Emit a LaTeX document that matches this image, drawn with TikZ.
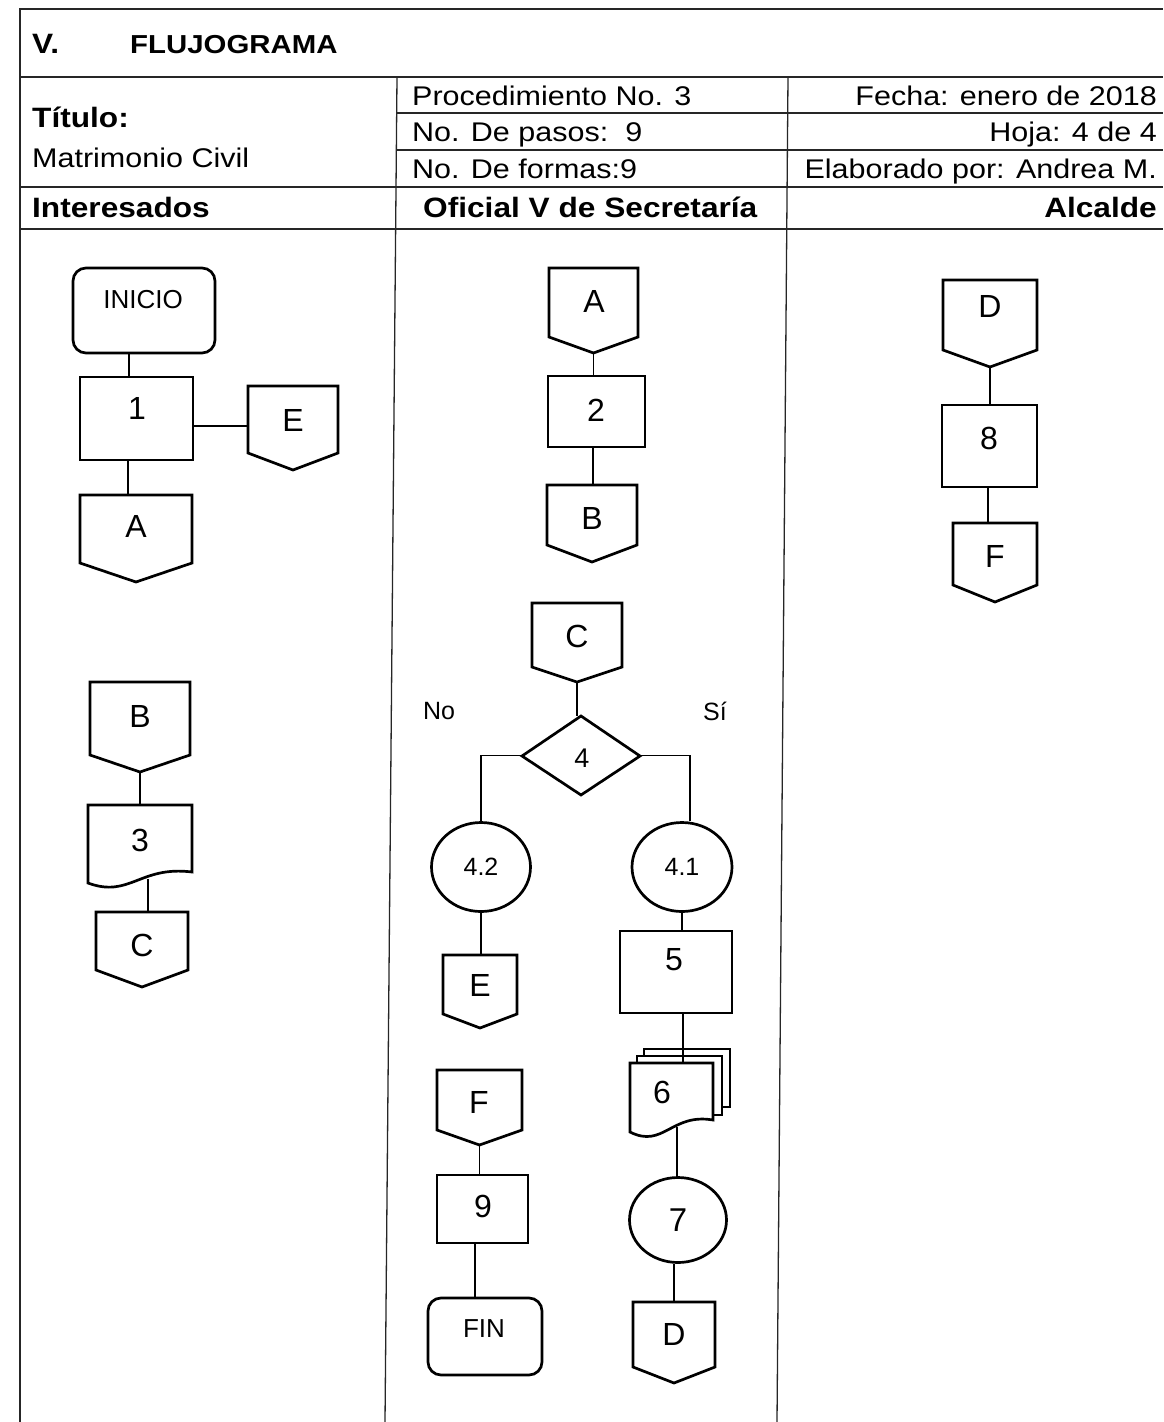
\documentclass[tikz,border=0pt]{standalone}
\usepackage{fontspec}
\setmainfont{Liberation Sans}
\newfontfamily\hdr[FakeStretch=1.13]{Liberation Sans}
\usetikzlibrary{fit,shapes.geometric}

\tikzset{
 shp/.style={draw=black, line width=2.7pt, line join=miter, fill=white},
 conn/.style={draw=black, line width=1.7pt},
 tbl/.style={draw=black!85, line width=1.3pt},
 box/.style={inner sep=0pt, outer sep=0pt},
 lbl/.style={inner sep=0pt, font=\fontsize{32}{32}\selectfont},
 slbl/.style={inner sep=0pt, font=\fontsize{25}{25}\selectfont},
 hreg/.style={inner sep=0pt, font=\hdr\fontsize{27}{27}\selectfont},
 hbold/.style={inner sep=0pt, font=\hdr\bfseries\fontsize{28}{28}\selectfont},
 circ/.style={shp, ellipse, inner sep=0pt, font=\fontsize{25}{25}\selectfont},
}

% off-page connector: name, xl, xr, top, side bottom, tip
\newcommand{\offpg}[6]{%
 \draw[shp] (#2,#4) -- (#3,#4) -- (#3,#5) -- ({(#2+#3)/2},#6) -- (#2,#5) -- cycle;
 \node[box, fit={(#2,#4) (#3,#6)}] (#1) {};}
% process box: name, xl, xr, top, bottom
\newcommand{\procbox}[5]{%
 \draw[shp] (#2,#4) rectangle (#3,#5);
 \node[box, fit={(#2,#4) (#3,#5)}] (#1) {};}
% terminal: name, xl, xr, top, bottom
\newcommand{\termbox}[5]{%
 \draw[shp, rounded corners=13pt] (#2,#4) rectangle (#3,#5);
 \node[box, fit={(#2,#4) (#3,#5)}] (#1) {};}
% document: name, xl, xr, top, left bottom, right bottom
\newcommand{\docshape}[6]{%
 \draw[shp] (#2,#4) -- (#3,#4) -- (#3,#6) .. controls ({#3-0.5*(#3-#2)},{#6-0.6*(#5-#6)}) and ({#2+0.4*(#3-#2)},{#5+1.4*(#5-#6)}) .. (#2,#5) -- cycle;
 \node[box, fit={(#2,#4) (#3,#5)}] (#1) {};}

\begin{document}
\begin{tikzpicture}[x=1pt,y=-1pt]
\useasboundingbox (0,0) rectangle (1163,1422);

% ---------- table ----------
\draw[tbl] (20,1422) -- (20,9) -- (1163,9);
\draw[tbl] (20,77) -- (1163,77);
\draw[tbl] (397,113) -- (1163,113);
\draw[tbl] (397,150) -- (1163,150);
\draw[tbl] (20,187) -- (1163,187);
\draw[tbl] (20,229) -- (1163,229);
\draw[tbl] (397,77) -- (385,1422);
\draw[tbl] (788,77) -- (777,1422);

\node[hbold, anchor=base west] (tV) at (32,53) {V.};
\node[hbold, anchor=base west, font=\hdr\bfseries\fontsize{26}{26}\selectfont] (tFlu) at (130,53) {FLUJOGRAMA};
\node[hbold, anchor=base west] (tTit) at (32,127) {Título:};
\node[hreg, anchor=base west] (tMat) at (32,167) {Matrimonio Civil};
\node[hreg, anchor=base west] (tProc) at (412,105) {Procedimiento No. 3};
\node[hreg, anchor=base west] (tPas) at (412,141) {No. De pasos:~~9};
\node[hreg, anchor=base west] (tFor) at (412,178) {No. De formas:9};
\node[hreg, anchor=base east] (tFec) at (1157,105) {Fecha: enero de 2018};
\node[hreg, anchor=base east] (tHoj) at (1157,141) {Hoja: 4 de 4};
\node[hreg, anchor=base east] (tEla) at (1157,178) {Elaborado por: Andrea M.};
\node[hbold, anchor=base west] (tInt) at (32,217) {Interesados};
\node[hbold, anchor=base west] (tOfi) at (423,217) {Oficial V de Secretaría};
\node[hbold, anchor=base east] (tAlc) at (1157,217) {Alcalde};

% ---------- Interesados ----------
\termbox{n0}{73}{215}{268}{353}
\node[slbl, font=\fontsize{26}{26}\selectfont] (n0t) at (143,300) {INICIO};
\procbox{b1}{80}{193}{377}{460}
\node[lbl] (b1t) at (137,408) {1};
\offpg{e1}{248}{338}{386}{453}{470}
\node[lbl] (e1t) at (293,420) {E};
\offpg{a1}{80}{192}{495}{563}{582}
\node[lbl] (a1t) at (136,526) {A};
\offpg{bb1}{90}{190}{682}{755}{772}
\node[lbl] (bb1t) at (140,716) {B};
\docshape{d3}{88}{192}{805}{883}{872}
\node[lbl] (d3t) at (140,840) {3};
\coordinate (w3) at (148,879);
\offpg{c1}{96}{188}{912}{970}{987}
\node[lbl] (c1t) at (142,945) {C};

\draw[conn] (n0.south -| 129,0) -- (b1.north -| 129,0);
\draw[conn] (b1.east |- 0,426) -- (e1.west |- 0,426);
\draw[conn] (b1.south -| 128,0) -- (a1.north -| 128,0);
\draw[conn] (bb1.south) -- (d3.north -| bb1.south);
\draw[conn] (w3) -- (c1.north -| w3);

% ---------- Oficial V de Secretaria ----------
\offpg{a2}{549}{638}{268}{337}{353}
\node[lbl] (a2t) at (594,301) {A};
\procbox{b2}{548}{645}{376}{447}
\node[lbl] (b2t) at (596,410) {2};
\offpg{bb2}{547}{637}{485}{545}{562}
\node[lbl] (bb2t) at (592,518) {B};
\offpg{c2}{532}{622}{603}{667}{682}
\node[lbl] (c2t) at (577,636) {C};
\draw[shp] (581,716) -- (640,756) -- (581,795) -- (522,756) -- cycle;
\node[box, fit={(522,716) (640,795)}] (dm) {};
\node[slbl, font=\fontsize{27}{27}\selectfont] (dmt) at (582,758) {4};
\node[slbl] (tNo) at (439,711) {No};
\node[slbl] (tSi) at (715,711) {Sí};
\node[circ, minimum width=99pt, minimum height=89pt] (c42) at (481,867) {4.2};
\node[circ, minimum width=100pt, minimum height=89pt] (c41) at (682,867) {4.1};
\offpg{e2}{443}{517}{955}{1014}{1028}
\node[lbl] (e2t) at (480,985) {E};
\procbox{b5}{620}{732}{931}{1013}
\node[lbl] (b5t) at (674,960) {5};
% multi document 6
\draw[shp] (644,1049) rectangle (730,1107);
\draw[shp] (637,1056) rectangle (722,1115);
\docshape{p6}{630}{713}{1063}{1132}{1120}
\node[lbl] (p6t) at (662,1092) {6};
\coordinate (w6) at (677,1127);
\node[circ, minimum width=97pt, minimum height=85pt, font=\fontsize{33}{33}\selectfont] (c7) at (678,1220) {7};
\offpg{d2}{633}{715}{1302}{1367}{1383}
\node[lbl] (d2t) at (674,1334) {D};
\offpg{f2}{437}{522}{1070}{1130}{1145}
\node[lbl] (f2t) at (479,1102) {F};
\procbox{b9}{437}{528}{1175}{1243}
\node[lbl] (b9t) at (483,1206) {9};
\termbox{fin}{428}{542}{1298}{1375}
\node[slbl, font=\fontsize{26}{26}\selectfont] (fint) at (484,1329) {FIN};

\draw[conn] (a2.south) -- (b2.north -| a2.south);
\draw[conn] (b2.south -| 593,0) -- (bb2.north -| 593,0);
\draw[conn] (c2.south) -- (c2.south |- dm.north);
\draw[conn] (dm.west) -| (c42.north);
\draw[conn] (dm.east) -| (c41.north -| 690,0);
\draw[conn] (c42.south) -- (e2.north -| c42.south);
\draw[conn] (c41.south) -- (b5.north -| c41.south);
\draw[conn] (b5.south -| 683,0) -- (p6.north -| 683,0);
\draw[conn] (w6) -- (c7.north -| w6);
\draw[conn] (c7.south -| 674,0) -- (d2.north);
\draw[conn] (f2.south) -- (b9.north -| f2.south);
\draw[conn] (b9.south -| 475,0) -- (fin.north -| 475,0);

% ---------- Alcalde ----------
\offpg{d3r}{943}{1037}{280}{350}{367}
\node[lbl] (d3rt) at (990,306) {D};
\procbox{b8}{942}{1037}{405}{487}
\node[lbl] (b8t) at (989,438) {8};
\offpg{f3}{953}{1037}{523}{585}{602}
\node[lbl] (f3t) at (995,556) {F};

\draw[conn] (d3r.south) -- (b8.north -| d3r.south);
\draw[conn] (b8.south -| 988,0) -- (f3.north -| 988,0);
\end{tikzpicture}
\end{document}
